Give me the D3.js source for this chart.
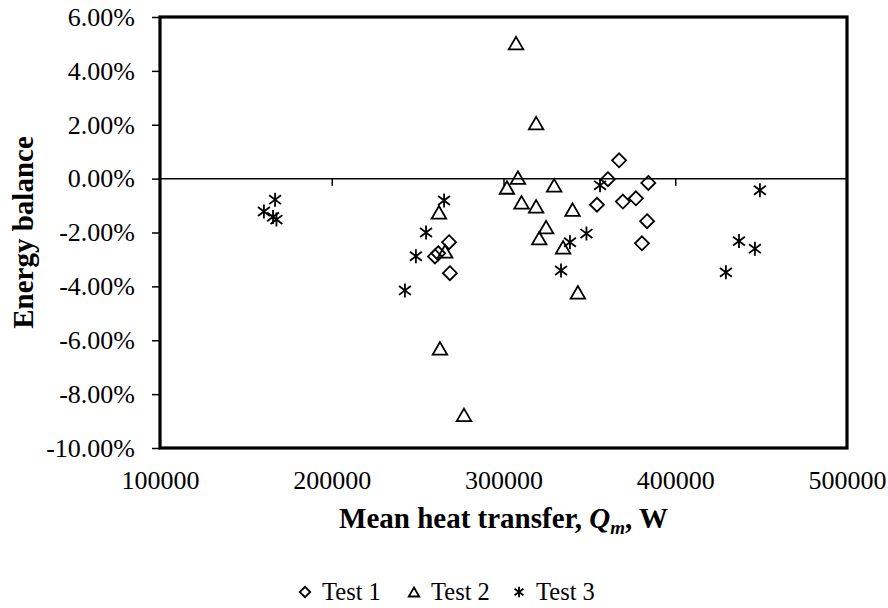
<!DOCTYPE html>
<html><head><meta charset="utf-8">
<script src="https://cdn.jsdelivr.net/npm/d3@7/dist/d3.min.js"></script>
<style>html,body{margin:0;padding:0;background:#fff;} svg{display:block;}</style>
</head><body>
<svg id="chart" width="888" height="608"></svg>
<script>
// ---- data (x = mean heat transfer in W, y = energy balance in %) ----
const test1X = [367300, 360800, 384300, 354400, 369500, 377100, 383600, 380600, 268800, 268300, 262000, 260100];
const test1Y = [0.68, -0.02, -0.16, -0.97, -0.85, -0.73, -1.58, -2.40, -3.51, -2.36, -2.77, -2.89];
const test2X = [307300, 319000, 308400, 302000, 329500, 310500, 319000, 340200, 324800, 320800, 334700, 343300, 262400, 266000, 263000, 277000];
const test2Y = [5.03, 2.06, 0.04, -0.33, -0.25, -0.88, -1.03, -1.15, -1.80, -2.21, -2.55, -4.22, -1.25, -2.70, -6.30, -8.77];
const test3X = [167000, 160500, 165800, 167800, 265400, 254900, 249000, 242600, 356200, 348300, 338700, 333500, 449300, 437100, 446400, 429500];
const test3Y = [-0.78, -1.22, -1.42, -1.52, -0.81, -2.00, -2.88, -4.15, -0.25, -2.04, -2.36, -3.41, -0.43, -2.32, -2.60, -3.48];
const seriesNames = ["Test 1", "Test 2", "Test 3"];
const xTicks = [100000, 200000, 300000, 400000, 500000];
const yTicks = [6, 4, 2, 0, -2, -4, -6, -8, -10];

const svg = d3.select("#chart");
const L = 160, R = 847, T = 17, B = 448;
const x = d3.scaleLinear().domain([100000, 500000]).range([L, R]);
const y = d3.scaleLinear().domain([-10, 6]).range([B, T]);
const font = "Liberation Serif";

// custom marker shapes
const diamond = { draw(ctx, s) { const r = Math.sqrt(s) / 2; ctx.moveTo(0, -r); ctx.lineTo(r, 0); ctx.lineTo(0, r); ctx.lineTo(-r, 0); ctx.closePath(); } };
const triangle = { draw(ctx, s) { const w = Math.sqrt(s) / 2, h = Math.sqrt(s) * 0.43; ctx.moveTo(0, -h); ctx.lineTo(w, h); ctx.lineTo(-w, h); ctx.closePath(); } };
const star = { draw(ctx, s) { const r = Math.sqrt(s) / 2, d = r * 0.85;
  ctx.moveTo(0, -r); ctx.lineTo(0, r); ctx.moveTo(-d, -d * 0.75); ctx.lineTo(d, d * 0.75); ctx.moveTo(d, -d * 0.75); ctx.lineTo(-d, d * 0.75); } };

// y axis ticks & labels (left)
const yAxis = d3.axisLeft(y).tickValues(yTicks).tickSize(8).tickPadding(17).tickFormat(d => d.toFixed(2) + "%");
const gy = svg.append("g").attr("transform", `translate(${L},0)`).call(yAxis)
  .attr("font-family", font).attr("font-size", 26);
gy.select(".domain").remove();
gy.selectAll(".tick line").attr("stroke", "#000").attr("stroke-width", 1.5);
gy.selectAll("text").attr("fill", "#000");

// x axis tick labels at bottom
const xAxisLabels = d3.axisBottom(x).tickValues(xTicks).tickSize(0).tickPadding(23).tickFormat(d3.format("d"));
const gxl = svg.append("g").attr("transform", `translate(0,${B})`).call(xAxisLabels)
  .attr("font-family", font).attr("font-size", 26);
gxl.select(".domain").remove();
gxl.selectAll("text").attr("fill", "#000");

// x axis line at zero with ticks
const xAxisZero = d3.axisBottom(x).tickValues(xTicks.slice(1, -1)).tickSize(7).tickFormat("");
const gx0 = svg.append("g").attr("transform", `translate(0,${y(0)})`).call(xAxisZero);
gx0.select(".domain").attr("stroke", "#000").attr("stroke-width", 1.5).attr("d", `M${L},0H${R}`);
gx0.selectAll(".tick line").attr("stroke", "#000").attr("stroke-width", 1.5);

// plot border
svg.append("rect").attr("x", L).attr("y", T).attr("width", R - L).attr("height", B - T)
  .attr("fill", "none").attr("stroke", "#000").attr("stroke-width", 3.2);

// points
const sym = d3.symbol();
function plot(xs, ys, type, size) {
  svg.append("g").selectAll("path").data(xs.map((v, i) => [v, ys[i]])).join("path")
    .attr("transform", d => `translate(${x(d[0])},${y(d[1])})`)
    .attr("d", sym.type(type).size(size)())
    .attr("fill", "none").attr("stroke", "#000").attr("stroke-width", 1.8);
}
plot(test1X, test1Y, diamond, 196);
plot(test2X, test2Y, triangle, 210);
plot(test3X, test3Y, star, 196);

// axis titles
svg.append("text").attr("transform", `translate(33,${(T + B) / 2}) rotate(-90)`).attr("text-anchor", "middle")
  .attr("font-family", font).attr("font-size", 29).attr("font-weight", "bold").text("Energy balance");
const xt = svg.append("text").attr("x", (L + R) / 2).attr("y", 528).attr("text-anchor", "middle")
  .attr("font-family", font).attr("font-size", 29).attr("font-weight", "bold");
xt.append("tspan").text("Mean heat transfer, ");
xt.append("tspan").attr("font-style", "italic").text("Q");
xt.append("tspan").attr("font-style", "italic").attr("font-size", 19).attr("dy", 6).text("m");
xt.append("tspan").attr("dy", -6).text(", W");

// legend
const legendTypes = [diamond, triangle, star];
const legendX = [305, 414, 519];
seriesNames.forEach((n, i) => {
  svg.append("path").attr("transform", `translate(${legendX[i]},592)`)
    .attr("d", d3.symbol().type(legendTypes[i]).size(110)())
    .attr("fill", "none").attr("stroke", "#000").attr("stroke-width", 1.8);
  svg.append("text").attr("x", legendX[i] + 17).attr("y", 600).attr("font-family", font)
    .attr("font-size", 24.5).text(n);
});
</script>
</body></html>
